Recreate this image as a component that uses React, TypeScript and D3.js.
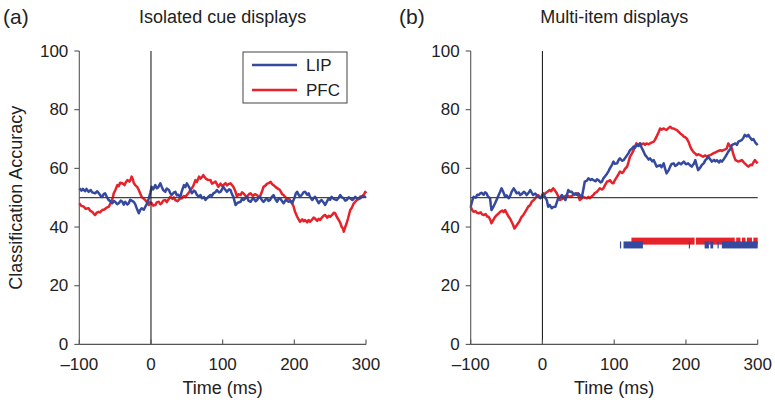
import React from 'react';
import * as d3 from 'd3';

type Pt = [number, number];

// ---------- data ----------
const xTicks = [-100, 0, 100, 200, 300];
const yTicks = [0, 20, 40, 60, 80, 100];
const panelLetters = ['(a)', '(b)'];
const panelTitles = ['Isolated cue displays', 'Multi-item displays'];
const seriesNames = ['LIP', 'PFC'];
const seriesColors = ['#34499f', '#e6222a'];
const chanceLevel = 50;

// Panel (a) LIP
const lipA: Pt[] = [
  [-100, 53.2], [-97, 52.4], [-95, 53.0], [-92, 52.2], [-90, 53.0], [-87, 52.0], [-84, 52.6], [-82, 51.8],
  [-78, 51.5], [-75, 52.2], [-73, 51.6], [-70, 50.6], [-68, 50.3], [-66, 51.2], [-64, 51.5], [-61, 50.0],
  [-59, 49.2], [-56, 48.6], [-54, 48.1], [-52, 48.9], [-50, 48.6], [-47, 47.8], [-45, 48.1], [-42, 49.0],
  [-40, 48.6], [-38, 47.6], [-36, 48.6], [-33, 47.7], [-31, 48.1], [-29, 49.3], [-27, 49.0], [-24, 48.6],
  [-22, 47.8], [-20, 46.5], [-17, 44.7], [-15, 45.8], [-13, 46.4], [-10, 45.9], [-8, 46.9], [-5, 48.2],
  [-3, 49.8], [-1, 51.6], [1, 53.7], [3, 52.8], [6, 54.3], [8, 53.2], [10, 53.5], [13, 54.9], [15, 53.7],
  [17, 52.6], [20, 52.0], [22, 53.1], [25, 52.6], [27, 51.5], [29, 50.9], [32, 51.8], [34, 52.0], [36, 50.8],
  [38, 51.0], [41, 50.3], [43, 52.2], [46, 54.3], [48, 53.6], [50, 54.9], [53, 53.7], [55, 52.6], [57, 51.5],
  [60, 52.4], [62, 52.0], [64, 51.0], [67, 50.3], [69, 50.9], [71, 49.8], [74, 50.2], [76, 49.2], [78, 49.8],
  [80, 50.3], [83, 50.9], [85, 50.6], [87, 51.5], [90, 51.9], [92, 52.6], [95, 51.8], [97, 52.0], [99, 52.8],
  [101, 53.7], [104, 52.6], [106, 52.0], [109, 52.9], [111, 52.6], [113, 51.2], [115, 50.3], [118, 47.5],
  [121, 48.3], [125, 48.6], [127, 49.6], [129, 49.2], [132, 49.9], [134, 50.3], [136, 49.0], [139, 48.6],
  [141, 49.4], [143, 49.8], [146, 48.8], [148, 49.2], [150, 50.0], [152, 50.3], [155, 49.1], [157, 48.6],
  [160, 49.4], [162, 49.8], [164, 48.9], [166, 49.2], [169, 50.4], [171, 50.9], [174, 49.3], [176, 48.6],
  [178, 49.6], [180, 49.8], [183, 48.8], [185, 48.1], [188, 49.2], [192, 48.6], [195, 48.9], [197, 48.1],
  [200, 49.8], [202, 51.4], [204, 52.0], [206, 51.0], [208, 50.3], [211, 51.2], [213, 51.9], [215, 52.0],
  [218, 51.0], [220, 51.5], [222, 50.2], [225, 49.2], [227, 49.9], [229, 50.3], [232, 49.0], [234, 48.1],
  [236, 48.8], [238, 49.2], [241, 48.3], [243, 47.5], [246, 48.9], [248, 49.8], [250, 49.3], [252, 50.3],
  [255, 49.6], [259, 49.2], [262, 50.0], [264, 50.9], [266, 50.2], [269, 49.8], [271, 49.0], [273, 49.2],
  [276, 50.1], [278, 49.8], [281, 49.2], [285, 50.3], [288, 49.6], [292, 49.8], [295, 50.6], [299, 50.3],
  [300, 50.5],
];

// Panel (a) PFC
const pfcA: Pt[] = [
  [-100, 48.1], [-97, 47.2], [-94, 47.0], [-91, 46.2], [-87, 46.4], [-85, 45.6], [-82, 45.2], [-80, 44.6],
  [-78, 44.1], [-76, 44.8], [-73, 45.2], [-71, 45.0], [-68, 45.8], [-65, 46.0], [-62, 46.6], [-59, 46.9],
  [-57, 47.8], [-55, 49.0], [-53, 50.2], [-52, 51.5], [-50, 52.4], [-47, 54.3], [-45, 53.9], [-43, 55.1],
  [-40, 54.9], [-37, 54.3], [-35, 55.3], [-33, 56.0], [-30, 55.5], [-28, 56.4], [-27, 57.2], [-25, 56.0],
  [-24, 55.0], [-22, 54.3], [-19, 53.6], [-17, 52.6], [-15, 51.4], [-13, 50.3], [-10, 49.6], [-8, 49.2],
  [-5, 48.2], [-3, 47.5], [-1, 48.5], [1, 48.1], [3, 47.3], [6, 47.5], [8, 48.4], [11, 48.6], [13, 47.8],
  [15, 48.1], [17, 49.0], [20, 49.2], [22, 48.5], [25, 49.6], [27, 50.3], [30, 49.6], [32, 50.1], [34, 49.2],
  [37, 48.8], [40, 49.6], [43, 49.8], [46, 50.6], [48, 50.2], [50, 50.9], [53, 51.8], [55, 52.6], [57, 53.2],
  [59, 54.0], [62, 56.0], [64, 55.3], [67, 57.2], [69, 56.5], [71, 57.0], [73, 57.7], [75, 57.0], [77, 56.4],
  [80, 56.0], [83, 56.0], [85, 54.8], [87, 55.0], [90, 55.5], [92, 54.6], [94, 53.7], [97, 54.8], [99, 54.0],
  [101, 54.3], [104, 55.0], [106, 54.2], [108, 54.6], [111, 54.9], [113, 54.3], [115, 53.7], [118, 52.0],
  [120, 50.3], [122, 51.2], [125, 50.9], [127, 51.8], [129, 51.5], [132, 50.6], [134, 50.3], [137, 51.3],
  [139, 51.5], [142, 50.6], [145, 51.2], [148, 50.9], [150, 50.2], [152, 50.3], [155, 52.2], [157, 53.7],
  [160, 54.2], [162, 54.8], [164, 54.9], [167, 55.4], [169, 54.6], [171, 54.3], [174, 53.6], [177, 53.1],
  [180, 52.6], [183, 51.2], [185, 50.9], [187, 50.3], [190, 49.6], [192, 49.8], [194, 49.2], [197, 48.0],
  [199, 47.0], [201, 45.2], [204, 43.5], [206, 42.6], [208, 41.8], [211, 42.6], [213, 42.0], [215, 42.4],
  [218, 41.6], [220, 42.4], [222, 41.8], [225, 42.6], [227, 43.2], [229, 42.9], [232, 42.1], [234, 42.8],
  [236, 42.4], [239, 43.4], [241, 43.9], [243, 44.1], [246, 43.2], [248, 43.8], [250, 43.5], [253, 44.2],
  [255, 44.9], [257, 44.7], [259, 43.6], [262, 42.4], [264, 41.5], [266, 40.1], [268, 39.4], [269, 38.4],
  [271, 40.0], [273, 41.3], [275, 43.0], [278, 45.8], [280, 46.5], [283, 48.1], [285, 48.6], [287, 49.2],
  [290, 49.6], [292, 50.4], [294, 50.3], [297, 51.0], [299, 52.0], [300, 51.5],
];

// Panel (b) LIP
const lipB: Pt[] = [
  [-100, 46.9], [-98, 48.8], [-96, 50.3], [-93, 50.0], [-91, 51.0], [-89, 50.9], [-87, 51.4], [-85, 51.7],
  [-82, 51.0], [-80, 51.8], [-78, 51.5], [-76, 50.4], [-73, 49.8], [-72, 47.6], [-71, 45.8], [-69, 46.6],
  [-66, 48.1], [-64, 49.2], [-61, 50.9], [-59, 52.0], [-57, 53.2], [-55, 52.2], [-52, 50.3], [-50, 50.8],
  [-47, 49.8], [-45, 50.6], [-43, 52.0], [-40, 53.2], [-38, 52.4], [-36, 51.5], [-33, 51.8], [-31, 50.9],
  [-29, 51.2], [-26, 52.0], [-24, 51.6], [-22, 50.9], [-19, 51.8], [-17, 52.6], [-15, 51.7], [-13, 50.9],
  [-10, 51.4], [-8, 50.9], [-5, 50.2], [-3, 49.8], [-1, 50.6], [1, 51.5], [3, 50.4], [6, 49.2], [8, 46.9],
  [10, 47.5], [13, 46.4], [15, 46.8], [18, 46.9], [20, 48.4], [22, 49.8], [25, 50.2], [27, 50.9], [30, 50.0],
  [32, 49.2], [34, 50.8], [36, 52.6], [38, 52.0], [41, 52.0], [43, 51.2], [46, 51.5], [48, 51.0], [50, 51.5],
  [53, 50.6], [55, 50.3], [57, 52.8], [59, 55.5], [62, 55.8], [64, 56.6], [67, 56.0], [69, 56.4], [71, 56.0],
  [74, 55.6], [76, 56.3], [78, 56.0], [81, 55.2], [83, 55.5], [85, 56.6], [87, 57.2], [90, 58.2], [92, 59.0],
  [94, 60.0], [97, 61.2], [99, 62.3], [101, 61.6], [104, 61.7], [106, 62.8], [108, 63.4], [111, 62.6],
  [113, 62.8], [116, 63.8], [118, 64.5], [120, 65.2], [122, 66.2], [125, 66.8], [127, 67.4], [129, 67.0],
  [131, 67.9], [134, 67.6], [136, 68.5], [138, 67.2], [141, 65.7], [143, 64.6], [145, 64.0], [148, 63.0],
  [150, 63.4], [153, 62.4], [155, 62.8], [157, 61.8], [159, 60.6], [162, 60.9], [164, 61.1], [166, 60.4],
  [169, 61.7], [171, 59.8], [173, 58.3], [176, 59.4], [178, 60.6], [180, 61.5], [183, 61.7], [185, 60.8],
  [187, 61.1], [190, 61.9], [193, 61.4], [197, 62.3], [200, 61.4], [203, 61.7], [206, 61.0], [208, 60.6],
  [211, 61.6], [213, 62.8], [215, 61.0], [217, 59.4], [220, 60.3], [222, 61.1], [225, 61.8], [227, 62.8],
  [229, 63.2], [231, 64.0], [234, 63.0], [236, 62.3], [239, 62.9], [241, 62.4], [243, 62.8], [246, 62.0],
  [248, 62.7], [250, 62.3], [253, 63.2], [255, 64.0], [257, 64.8], [259, 65.7], [262, 66.6], [264, 67.9],
  [266, 68.2], [269, 68.5], [271, 68.0], [273, 69.1], [276, 69.4], [278, 69.7], [280, 70.4], [282, 71.4],
  [285, 70.9], [287, 71.4], [289, 70.6], [292, 69.7], [294, 70.0], [296, 69.1], [298, 68.4], [300, 67.9],
];

// Panel (b) PFC
const pfcB: Pt[] = [
  [-100, 46.9], [-98, 45.8], [-96, 45.2], [-93, 45.4], [-91, 44.8], [-89, 44.7], [-86, 45.0], [-84, 44.3],
  [-82, 44.1], [-79, 44.4], [-77, 43.6], [-75, 43.5], [-73, 42.6], [-71, 41.3], [-69, 42.2], [-66, 43.5],
  [-64, 44.0], [-61, 44.6], [-59, 45.2], [-56, 45.6], [-54, 45.1], [-52, 45.8], [-50, 44.8], [-47, 43.5],
  [-45, 42.8], [-43, 41.8], [-41, 40.8], [-39, 39.5], [-37, 40.2], [-34, 41.3], [-32, 42.0], [-29, 43.5],
  [-27, 44.0], [-24, 45.2], [-22, 46.0], [-20, 46.9], [-17, 47.5], [-15, 48.6], [-13, 49.0], [-10, 49.8],
  [-8, 50.4], [-6, 50.9], [-3, 50.0], [-1, 50.3], [2, 51.0], [4, 51.5], [7, 52.0], [10, 52.6], [12, 52.2],
  [15, 53.2], [17, 52.6], [20, 51.5], [22, 50.4], [24, 49.2], [27, 49.5], [29, 49.8], [31, 50.4], [34, 50.9],
  [36, 50.5], [38, 50.3], [41, 50.6], [43, 50.9], [45, 51.0], [48, 51.5], [50, 50.6], [52, 49.2], [55, 49.8],
  [57, 50.3], [59, 50.0], [62, 49.8], [64, 50.3], [66, 49.8], [69, 50.5], [71, 50.9], [73, 51.6], [76, 52.0],
  [78, 52.6], [80, 53.2], [83, 52.8], [85, 53.2], [87, 54.2], [90, 55.5], [92, 55.6], [94, 56.0], [97, 55.0],
  [99, 54.9], [101, 56.0], [104, 57.2], [106, 58.0], [108, 58.9], [111, 58.4], [113, 58.9], [115, 59.8],
  [118, 60.6], [120, 62.2], [122, 64.0], [125, 65.2], [127, 66.2], [129, 67.5], [131, 68.5], [134, 68.0],
  [136, 68.5], [138, 68.2], [141, 68.5], [143, 68.0], [145, 68.5], [148, 68.2], [150, 68.5], [152, 68.8],
  [155, 69.1], [157, 69.8], [159, 70.8], [162, 72.4], [164, 73.6], [166, 73.2], [169, 73.6], [171, 73.3],
  [173, 73.1], [176, 73.8], [178, 74.2], [180, 73.7], [183, 73.6], [185, 73.3], [187, 73.1], [190, 72.4],
  [192, 71.9], [195, 71.4], [197, 70.8], [199, 70.6], [201, 70.2], [204, 68.8], [206, 67.4], [208, 66.4],
  [210, 65.7], [213, 65.0], [215, 64.5], [217, 64.8], [220, 64.5], [222, 64.2], [224, 64.0], [227, 64.4],
  [229, 64.0], [231, 64.3], [234, 64.5], [236, 64.8], [238, 65.1], [241, 65.4], [243, 65.7], [246, 66.0],
  [248, 66.2], [250, 65.9], [252, 66.2], [255, 66.5], [257, 66.8], [259, 68.5], [261, 67.8], [264, 66.8],
  [266, 64.8], [269, 62.8], [271, 62.6], [273, 62.3], [276, 62.6], [278, 62.8], [280, 62.2], [282, 61.7],
  [285, 61.0], [287, 60.6], [290, 61.2], [292, 61.1], [294, 62.0], [296, 62.8], [298, 62.2], [300, 61.7],
];

// significance periods (ms) for panel (b)
const sigPFC: Pt[] = [[124, 212], [214, 268], [270, 276], [278, 283], [285, 292], [294, 300]];
const sigLIP: Pt[] = [[108, 109], [113, 140], [204, 205], [226, 232], [234, 238], [244, 245], [250, 300]];
const sigLevels = [33.9, 35.2]; // LIP, PFC accuracy level where bars are drawn

// ---------- layout ----------
const W = 775;
const H = 404;
const FONT = "'Liberation Sans', Arial, Helvetica, sans-serif";
const yTop = 51;
const yBottom = 344.4;
const panelX: Pt[] = [[79.3, 366], [470.7, 757.7]];

const y = d3.scaleLinear().domain([0, 100]).range([yBottom, yTop]);

function Panel({ idx }: { idx: number }) {
  const x = d3.scaleLinear().domain([-100, 300]).range(panelX[idx]);
  const line = d3
    .line<Pt>()
    .x((d) => x(d[0]))
    .y((d) => y(d[1]));
  const lip = idx === 0 ? lipA : lipB;
  const pfc = idx === 0 ? pfcA : pfcB;
  const axisColor = '#555';
  const x0 = x(-100);
  const x1 = x(300);
  const barH = 7;
  return (
    <g>
      <text x={idx === 0 ? 3 : 399} y={24} fontSize={21} fontFamily={FONT} fill="#222">
        {panelLetters[idx]}
      </text>
      <text x={(x0 + x1) / 2} y={23} fontSize={18} fontFamily={FONT} fill="#222" textAnchor="middle">
        {panelTitles[idx]}
      </text>

      {/* significance bars */}
      {idx === 1 && (
        <g>
          {sigPFC.map((s, i) => (
            <rect
              key={'p' + i}
              x={x(s[0])}
              width={Math.max(1.2, x(s[1]) - x(s[0]))}
              y={y(sigLevels[1]) - barH / 2}
              height={barH}
              fill={seriesColors[1]}
            />
          ))}
          {sigLIP.map((s, i) => (
            <rect
              key={'l' + i}
              x={x(s[0])}
              width={Math.max(1.2, x(s[1]) - x(s[0]))}
              y={y(sigLevels[0]) - barH / 2}
              height={barH}
              fill={seriesColors[0]}
            />
          ))}
        </g>
      )}

      {/* data lines */}
      <path d={line(pfc) || ''} fill="none" stroke={seriesColors[1]} strokeWidth={2.5} strokeLinejoin="round" />
      <path d={line(lip) || ''} fill="none" stroke={seriesColors[0]} strokeWidth={2.5} strokeLinejoin="round" />

      {/* reference lines */}
      <line x1={x0} x2={x1} y1={y(chanceLevel)} y2={y(chanceLevel)} stroke="#444" strokeWidth={1.2} />
      <line x1={x(0)} x2={x(0)} y1={y(100)} y2={y(0)} stroke="#222" strokeWidth={1.1} />

      {/* axes */}
      <line x1={x0} x2={x0} y1={y(100)} y2={y(0)} stroke={axisColor} strokeWidth={1.1} />
      <line x1={x0} x2={x1} y1={y(0)} y2={y(0)} stroke={axisColor} strokeWidth={1.1} />
      {yTicks.map((t) => (
        <g key={'y' + t}>
          <line x1={x0 - 5} x2={x0} y1={y(t)} y2={y(t)} stroke={axisColor} strokeWidth={1.1} />
          <text
            x={x0 - 11}
            y={y(t) + 5.5}
            fontSize={17}
            fontFamily={FONT}
            fill="#222"
            textAnchor="end"
          >
            {t}
          </text>
        </g>
      ))}
      {xTicks.map((t) => (
        <g key={'x' + t}>
          <line x1={x(t)} x2={x(t)} y1={y(0)} y2={y(0) - 5} stroke={axisColor} strokeWidth={1.1} />
          <text x={x(t)} y={370} fontSize={17} fontFamily={FONT} fill="#222" textAnchor="middle">
            {t < 0 ? '\u2013' + Math.abs(t) : String(t)}
          </text>
        </g>
      ))}
      <text x={(x0 + x1) / 2} y={394} fontSize={18} fontFamily={FONT} fill="#222" textAnchor="middle">
        Time (ms)
      </text>

      {idx === 0 && (
        <text
          transform={`translate(22,${(y(0) + y(100)) / 2}) rotate(-90)`}
          fontSize={18}
          fontFamily={FONT}
          fill="#222"
          textAnchor="middle"
        >
          Classification Accuracy
        </text>
      )}

      {idx === 0 && (
        <g>
          <rect x={243} y={52} width={104} height={51} fill="#fff" stroke="#555" strokeWidth={1.1} />
          {seriesNames.map((n, i) => (
            <g key={n}>
              <line x1={252} x2={297} y1={65 + i * 25} y2={65 + i * 25} stroke={seriesColors[i]} strokeWidth={2.3} />
              <text x={306} y={71 + i * 25} fontSize={17} fontFamily={FONT} fill="#222">
                {n}
              </text>
            </g>
          ))}
        </g>
      )}
    </g>
  );
}

export default function App() {
  return (
    <svg
      width={W}
      height={H}
      viewBox={`0 0 ${W} ${H}`}
      style={{ position: 'absolute', left: 0, top: 0, background: '#fff' }}
    >
      <rect width={W} height={H} fill="#fff" />
      <Panel idx={0} />
      <Panel idx={1} />
    </svg>
  );
}
